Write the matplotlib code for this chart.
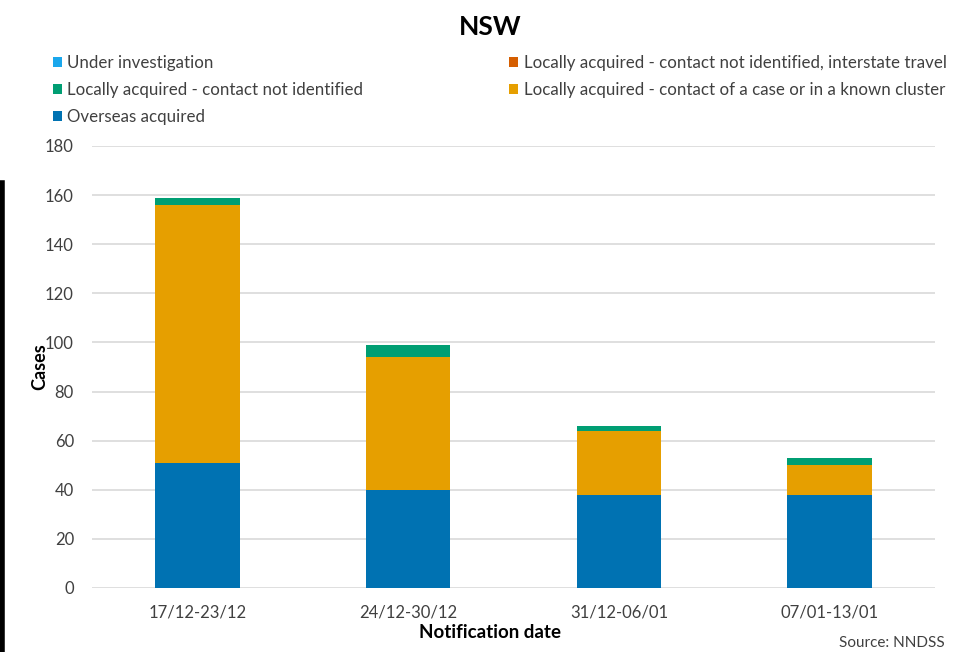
import matplotlib
matplotlib.use("Agg")
import matplotlib.pyplot as plt
import numpy as np

categories = ["17/12-23/12", "24/12-30/12", "31/12-06/01", "07/01-13/01"]
overseas = [51, 40, 38, 38]
contact_case = [105, 54, 26, 12]
not_identified = [3, 5, 2, 3]
interstate = [0, 0, 0, 0]
under_investigation = [0, 0, 0, 0]

plt.rcParams['font.family'] = ['Lato', 'DejaVu Sans']

fig = plt.figure(figsize=(9.54, 6.52), dpi=100)
ax = fig.add_axes([92/954, 1-588/652, (935-92)/954, (588-146)/652])

x = np.arange(len(categories))
w = 0.40
c_blue = "#0072B2"
c_orange = "#E69F00"
c_green = "#009E73"
c_red = "#D55E00"
c_sky = "#1AA7EC"

b = np.zeros(len(categories))
h_ov = ax.bar(x, overseas, w, bottom=b, color=c_blue, zorder=3)
b += np.array(overseas)
h_cc = ax.bar(x, contact_case, w, bottom=b, color=c_orange, zorder=3)
b += np.array(contact_case)
h_ni = ax.bar(x, not_identified, w, bottom=b, color=c_green, zorder=3)
b += np.array(not_identified)
h_it = ax.bar(x, interstate, w, bottom=b, color=c_red, zorder=3)
b += np.array(interstate)
h_ui = ax.bar(x, under_investigation, w, bottom=b, color=c_sky, zorder=3)

ax.set_xlim(-0.5, len(categories) - 0.5)
ax.set_ylim(0, 180)
ax.set_yticks(np.arange(0, 181, 20))
ax.set_xticks(x)
ax.set_xticklabels(categories)
ax.tick_params(axis='both', length=0, labelsize=12, colors="#404040")
ax.tick_params(axis='x', pad=12)
ax.tick_params(axis='y', pad=13)
ax.yaxis.grid(True, color="#D9D9D9", linewidth=1.2, zorder=0)
for s in ax.spines.values():
    s.set_visible(False)

ax.set_ylabel("Cases", fontsize=13, fontweight="bold")
ax.yaxis.set_label_coords((40-92)/843, 0.5)
ax.yaxis.label.set_va("center")
ax.set_xlabel("Notification date", fontsize=13.5, fontweight="bold")
ax.xaxis.set_label_coords((490-92)/843, -(633-588)/442)
ax.xaxis.label.set_va("center")

fig.text(490/954, 1-27/652, "NSW", ha="center", va="center", fontsize=19, fontweight="bold")

handles = [h_ui, h_ni, h_ov, h_it, h_cc]
labels = ["Under investigation",
          "Locally acquired - contact not identified",
          "Overseas acquired",
          "Locally acquired - contact not identified, interstate travel",
          "Locally acquired - contact of a case or in a known cluster"]
leg = fig.legend(handles, labels, ncol=2, loc="upper left",
                 bbox_to_anchor=(53/954, 1-55/652), frameon=False,
                 fontsize=12.2, handlelength=0.55, handleheight=0.55,
                 handletextpad=0.3, columnspacing=8.6, labelspacing=0.65,
                 borderaxespad=0, borderpad=0)
for t in leg.get_texts():
    t.set_color("#404040")

fig.text(945/954, 1-643/652, "Source: NNDSS", ha="right", va="center", fontsize=11, color="#404040")

fig.add_artist(plt.Line2D([2/954, 2/954], [0, 1-183/652], color="black", linewidth=4, transform=fig.transFigure))

fig.savefig("out.png", dpi=100)
